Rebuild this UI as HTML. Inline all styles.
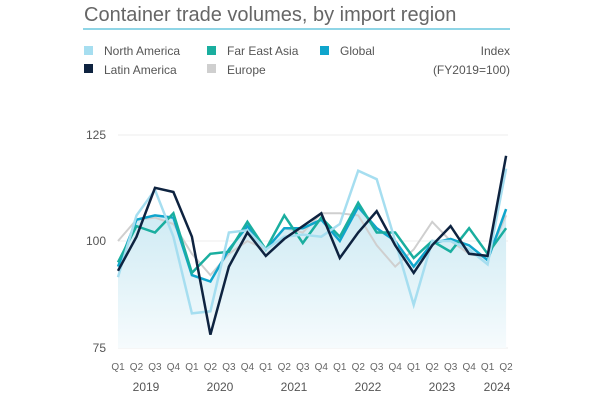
<!DOCTYPE html>
<html><head><meta charset="utf-8"><style>
body{margin:0;background:#fff;width:600px;height:400px;overflow:hidden;font-family:"Liberation Sans",sans-serif}
</style></head><body>
<svg width="600" height="400" xmlns="http://www.w3.org/2000/svg" font-family="Liberation Sans, sans-serif">
<defs><linearGradient id="g" x1="0" y1="0" x2="0" y2="1"><stop offset="0" stop-color="#cdeaf3"/><stop offset="1" stop-color="#f6fbfd"/></linearGradient></defs>
<text x="84" y="21" font-size="20" fill="#666">Container trade volumes, by import region</text>
<rect x="83" y="28" width="427" height="2" fill="#8fd5e6"/>
<g font-size="12" fill="#555">
<rect x="84" y="46" width="9" height="9" fill="#a6def0"/><text x="104" y="55">North America</text>
<rect x="207" y="46" width="9" height="9" fill="#1aae9f"/><text x="227" y="55">Far East Asia</text>
<rect x="320" y="46" width="9" height="9" fill="#10a5cc"/><text x="340" y="55">Global</text>
<rect x="84" y="64" width="9" height="9" fill="#0e2340"/><text x="104" y="74">Latin America</text>
<rect x="207" y="64" width="9" height="9" fill="#cfcfcf"/><text x="227" y="74">Europe</text>
<text x="510" y="55" text-anchor="end">Index</text><text x="510" y="74" text-anchor="end">(FY2019=100)</text>
</g>
<g stroke="#eee" stroke-width="1"><line x1="118" y1="135" x2="508" y2="135"/><line x1="118" y1="241" x2="508" y2="241"/><line x1="118" y1="348" x2="508" y2="348"/></g>
<g font-size="12" fill="#555" text-anchor="end"><text x="106" y="139">125</text><text x="106" y="245">100</text><text x="106" y="352">75</text></g>
<g id="plot"></g>
<g id="xl" font-size="10" fill="#666" text-anchor="middle"></g>
<g font-size="12" fill="#555" text-anchor="middle">
<text x="146" y="391">2019</text><text x="220" y="391">2020</text><text x="294" y="391">2021</text><text x="368" y="391">2022</text><text x="442" y="391">2023</text><text x="497" y="391">2024</text></g>
</svg>
<script>
var x0=118,dx=18.48;function X(i){return x0+i*dx}function Y(v){return 241-(v-100)*4.26}
var S={
eu:[100,105,105.5,104,97,92,97,100,98,103,102,106.5,106.5,106,99,94,98,104.5,100,97,96,106],
gl:[94,105,106,105.5,92,90.5,98,103.5,98,103,103,105,100,108,103,100,94,99.5,100.5,99,95.5,107.5],
fe:[95,103.5,102,106.5,92.5,97,97.5,104.5,98,106,99.5,105.5,101,109,102,102,96,100,97.5,103,97,103],
na:[91.5,106,112,101,83,83.5,102,102.5,98,101,101.5,101,104,116.5,114.5,100,85,100,100,98,94.5,117],
la:[93,101,112.5,111.5,101,78,94,102,96.5,100.5,103.5,106.5,96,102,107,99,92.5,99,103.5,97,96.5,120]};
function pts(a){return a.map(function(v,i){return X(i).toFixed(1)+","+Y(v).toFixed(1)}).join(" ")}
var h='<polygon fill="url(#g)" points="'+X(0)+',348 '+pts(S.gl)+' '+X(21)+',348"/>';
var c={eu:["#cfcfcf",2],gl:["#10a5cc",2.5],fe:["#1aae9f",2.5],na:["#a6def0",2.5],la:["#0e2340",2.5]};
for(var k in c)h+='<polyline fill="none" stroke="'+c[k][0]+'" stroke-width="'+c[k][1]+'" stroke-linejoin="miter" points="'+pts(S[k])+'"/>';
document.getElementById("plot").innerHTML=h;
var q="",Q=["Q1","Q2","Q3","Q4"];for(var i=0;i<22;i++)q+='<text x="'+X(i)+'" y="370">'+Q[i%4]+'</text>';
document.getElementById("xl").innerHTML=q;
</script>
</body></html>
